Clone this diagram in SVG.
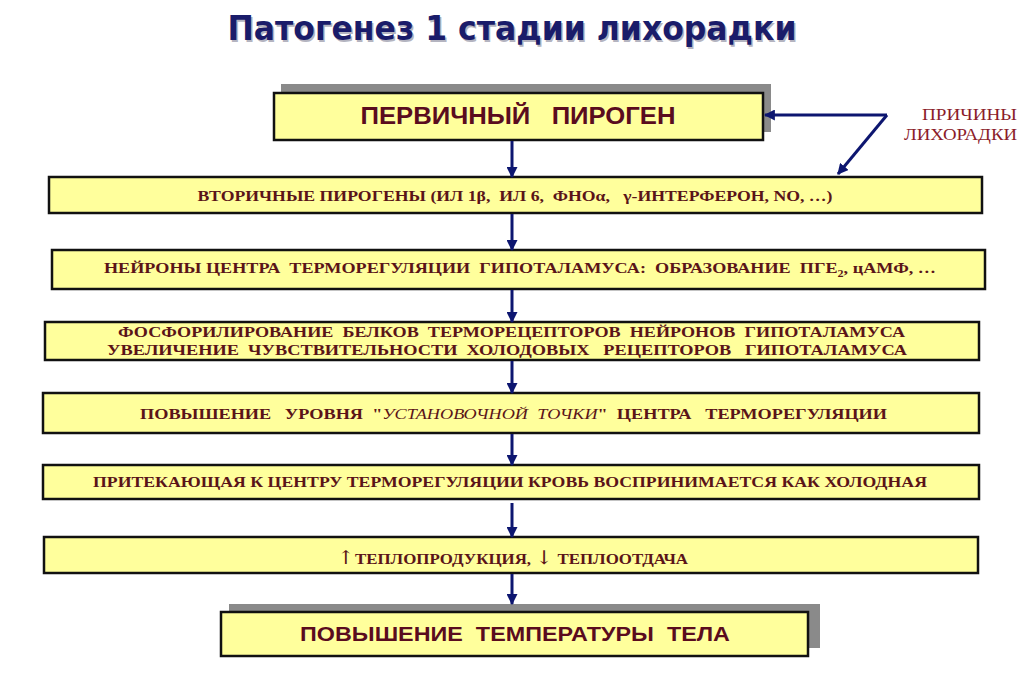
<svg xmlns="http://www.w3.org/2000/svg" width="1024" height="681" viewBox="0 0 1024 681">
<defs>
<marker id="ah" viewBox="0 0 10 10" refX="9" refY="5" markerWidth="11" markerHeight="11" markerUnits="userSpaceOnUse" orient="auto">
<path d="M0,0 L10,5 L0,10 z" fill="#0d1670"/>
</marker>
<style>
.box{fill:#ffff9c;stroke:#111;stroke-width:2.5}
.shadow{fill:#8a8a8a}
.sans{font-family:"Liberation Sans",Arial,sans-serif;font-weight:bold;fill:#5a0c1e}
.serif{font-family:"Liberation Serif","Times New Roman",serif;font-weight:bold;fill:#5a1418}
.conn{stroke:#0d1670;stroke-width:3;fill:none;marker-end:url(#ah)}
</style>
</defs>
<rect width="1024" height="681" fill="#ffffff"/>

<g id="title">
<text x="513.5" y="41.5" text-anchor="middle" font-family="'DejaVu Sans','Liberation Sans',sans-serif" font-weight="bold" font-size="33" fill="#b4b4c0" textLength="569" lengthAdjust="spacingAndGlyphs">Патогенез 1 стадии лихорадки</text>
<text x="512" y="40" text-anchor="middle" font-family="'DejaVu Sans','Liberation Sans',sans-serif" font-weight="bold" font-size="33" fill="#1a1c6a" textLength="569" lengthAdjust="spacingAndGlyphs">Патогенез 1 стадии лихорадки</text>
</g>

<g id="causes">
<text x="1017" y="120" text-anchor="end" font-family="'Liberation Serif',serif" font-size="16" fill="#8b1c2a" textLength="95" lengthAdjust="spacingAndGlyphs">ПРИЧИНЫ</text>
<text x="1017" y="140" text-anchor="end" font-family="'Liberation Serif',serif" font-size="16" fill="#8b1c2a" textLength="113" lengthAdjust="spacingAndGlyphs">ЛИХОРАДКИ</text>
</g>

<g id="node1">
<rect class="shadow" x="281" y="84" width="490" height="48"/>
<rect class="box" x="274" y="93" width="489" height="47"/>
<text class="sans" x="518" y="124" text-anchor="middle" font-size="23" textLength="315" lengthAdjust="spacingAndGlyphs" xml:space="preserve">ПЕРВИЧНЫЙ   ПИРОГЕН</text>
</g>

<g id="node2">
<rect class="box" x="49" y="177" width="933" height="36"/>
<text class="serif" x="515" y="201" text-anchor="middle" font-size="15" textLength="635" lengthAdjust="spacingAndGlyphs" xml:space="preserve">ВТОРИЧНЫЕ ПИРОГЕНЫ (ИЛ 1β,  ИЛ 6,  ФНОα,   γ-ИНТЕРФЕРОН, NO, …)</text>
</g>

<g id="node3">
<rect class="box" x="52" y="250" width="933" height="39"/>
<text class="serif" x="104" y="273" font-size="15" textLength="832" lengthAdjust="spacingAndGlyphs" xml:space="preserve">НЕЙРОНЫ ЦЕНТРА  ТЕРМОРЕГУЛЯЦИИ  ГИПОТАЛАМУСА:  ОБРАЗОВАНИЕ  ПГЕ<tspan font-size="10" dy="4">2</tspan><tspan dy="-4">, цАМФ, …</tspan></text>
</g>

<g id="node4">
<rect class="box" x="45" y="322" width="934" height="38"/>
<text class="serif" x="118" y="337" font-size="15" textLength="787" lengthAdjust="spacingAndGlyphs" xml:space="preserve">ФОСФОРИЛИРОВАНИЕ  БЕЛКОВ  ТЕРМОРЕЦЕПТОРОВ  НЕЙРОНОВ  ГИПОТАЛАМУСА</text>
<text class="serif" x="107" y="355" font-size="15" textLength="800" lengthAdjust="spacingAndGlyphs" xml:space="preserve">УВЕЛИЧЕНИЕ  ЧУВСТВИТЕЛЬНОСТИ  ХОЛОДОВЫХ   РЕЦЕПТОРОВ   ГИПОТАЛАМУСА</text>
</g>

<g id="node5">
<rect class="box" x="43" y="393" width="936" height="40"/>
<text class="serif" x="140" y="419" font-size="15" textLength="747" lengthAdjust="spacingAndGlyphs" xml:space="preserve">ПОВЫШЕНИЕ   УРОВНЯ  "<tspan font-style="italic" font-weight="normal">УСТАНОВОЧНОЙ  ТОЧКИ</tspan>"  ЦЕНТРА   ТЕРМОРЕГУЛЯЦИИ</text>
</g>

<g id="node6">
<rect class="box" x="43" y="465" width="936" height="34"/>
<text class="serif" x="93" y="487" font-size="15" textLength="834" lengthAdjust="spacingAndGlyphs">ПРИТЕКАЮЩАЯ К ЦЕНТРУ ТЕРМОРЕГУЛЯЦИИ КРОВЬ ВОСПРИНИМАЕТСЯ КАК ХОЛОДНАЯ</text>
</g>

<g id="node7">
<rect class="box" x="44" y="537" width="934" height="36"/>
<text class="serif" x="337" y="564" font-size="15" textLength="351" lengthAdjust="spacingAndGlyphs"><tspan font-weight="normal" font-size="19" font-family="'DejaVu Serif',serif">↑</tspan>ТЕПЛОПРОДУКЦИЯ, <tspan font-weight="normal" font-size="19" font-family="'DejaVu Serif',serif">↓</tspan> ТЕПЛООТДАЧА</text>
</g>

<g id="node8">
<rect class="shadow" x="229" y="604" width="591" height="44"/>
<rect class="box" x="221" y="612" width="587" height="44"/>
<text class="sans" x="515" y="641" text-anchor="middle" font-size="21" textLength="430" lengthAdjust="spacingAndGlyphs" xml:space="preserve">ПОВЫШЕНИЕ  ТЕМПЕРАТУРЫ  ТЕЛА</text>
</g>

<g id="connectors">
<line class="conn" x1="512" y1="141" x2="512" y2="177"/>
<line class="conn" x1="512" y1="214" x2="512" y2="250"/>
<line class="conn" x1="512" y1="290" x2="512" y2="322"/>
<line class="conn" x1="512" y1="361" x2="512" y2="393"/>
<line class="conn" x1="512" y1="434" x2="512" y2="465"/>
<line class="conn" x1="512" y1="503" x2="512" y2="537"/>
<line class="conn" x1="512" y1="574" x2="512" y2="604"/>
<line class="conn" x1="887" y1="115" x2="765" y2="115"/>
<line class="conn" x1="887" y1="115" x2="838" y2="174"/>
</g>
</svg>
